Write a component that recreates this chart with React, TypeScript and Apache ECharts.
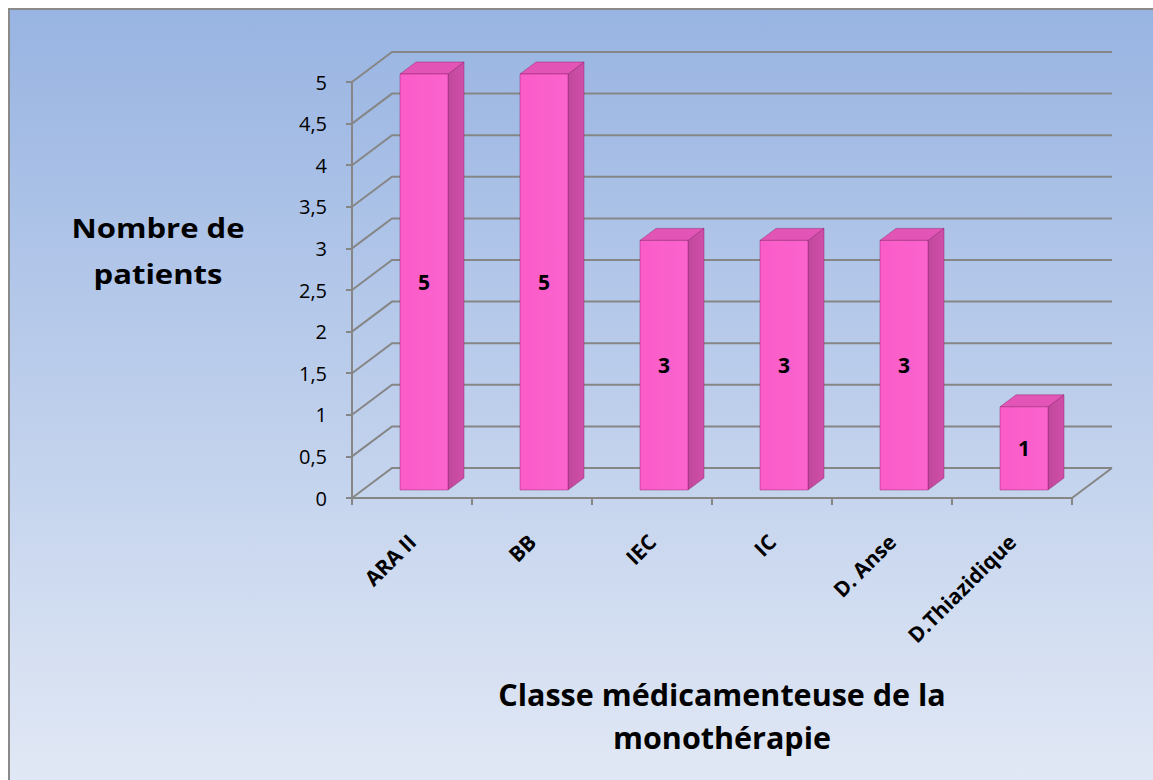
import React, { useEffect, useRef } from "react";
import * as echarts from "echarts";

const categories = ["ARA II", "BB", "IEC", "IC", "D. Anse", "D.Thiazidique"];
const patientCounts = [5, 5, 3, 3, 3, 1];
const yTicks = [0, 0.5, 1, 1.5, 2, 2.5, 3, 3.5, 4, 4.5, 5];
const yTitleLines = ["Nombre de", "patients"];
const xTitleLines = ["Classe médicamenteuse de la", "monothérapie"];

const DEPTH_DX = 40;
const DEPTH_DY = -30;
const GRID_COLOR = "#868686";

export default function App() {
  const ref = useRef<HTMLDivElement>(null);

  useEffect(() => {
    if (!ref.current) return;
    const chart = echarts.init(ref.current, undefined, { renderer: "svg" });
    const font = "'Open Sans', 'Liberation Sans', sans-serif";

    const option: any = {
      animation: false,
      backgroundColor: {
        type: "linear",
        x: 0,
        y: 0,
        x2: 0,
        y2: 1,
        colorStops: [
          { offset: 0, color: "#98b4e2" },
          { offset: 1, color: "#e1e8f5" },
        ],
      },
      grid: { left: 344, top: 74, width: 720, height: 416 },
      xAxis: {
        type: "category",
        data: categories,
        boundaryGap: true,
        axisLine: { lineStyle: { color: GRID_COLOR, width: 2 } },
        axisTick: { show: true, length: 7, lineStyle: { color: GRID_COLOR, width: 2 } },
        axisLabel: {
          rotate: 45,
          margin: 40,
          interval: 0,
          color: "#000",
          fontFamily: font,
          fontWeight: "bold",
          fontSize: 21,
        },
        splitLine: { show: false },
      },
      yAxis: {
        type: "value",
        min: 0,
        max: 5,
        interval: 0.5,
        axisLine: { show: true, lineStyle: { color: GRID_COLOR, width: 2 } },
        axisTick: { show: true, length: 6, lineStyle: { color: GRID_COLOR, width: 2 } },
        axisLabel: {
          margin: 25,
          color: "#000",
          fontFamily: font,
          fontSize: 20,
          formatter: (v: number) => String(v).replace(".", ","),
        },
        splitLine: { show: false },
      },
      series: [
        {
          type: "custom",
          z: 1,
          silent: true,
          data: yTicks.map((v) => [0, v]),
          renderItem: (params: any, api: any) => {
            const v = api.value(1);
            const p = api.coord([0, v]);
            const band = api.size([1, 0])[0];
            const left = p[0] - band / 2;
            const right = left + band * categories.length;
            const y = p[1];
            const children: any[] = [
              {
                type: "polyline",
                shape: {
                  points: [
                    [left, y],
                    [left + DEPTH_DX, y + DEPTH_DY],
                    [right + DEPTH_DX, y + DEPTH_DY],
                  ],
                },
                style: { stroke: GRID_COLOR, lineWidth: 2, fill: null },
              },
            ];
            if (v === 0) {
              children.push({
                type: "line",
                shape: { x1: right, y1: y, x2: right + DEPTH_DX, y2: y + DEPTH_DY },
                style: { stroke: GRID_COLOR, lineWidth: 2 },
              });
            }
            return { type: "group", children };
          },
        },
        {
          type: "custom",
          z: 5,
          data: patientCounts.map((v, i) => [i, v]),
          renderItem: (params: any, api: any) => {
            const i = api.value(0);
            const v = api.value(1);
            const top = api.coord([i, v]);
            const base = api.coord([i, 0]);
            const band = api.size([1, 0])[0];
            const w = band * 0.4;
            const fdx = band * 0.1;
            const fdy = -8;
            const ddx = 16;
            const ddy = -12;
            const x0 = top[0] + fdx - w / 2;
            const x1 = x0 + w;
            const yT = top[1] + fdy;
            const yB = base[1] + fdy;
            const edge = "rgba(140,30,100,0.55)";
            return {
              type: "group",
              children: [
                {
                  type: "polygon",
                  shape: {
                    points: [
                      [x1, yT],
                      [x1 + ddx, yT + ddy],
                      [x1 + ddx, yB + ddy],
                      [x1, yB],
                    ],
                  },
                  style: {
                    fill: {
                      type: "linear", x: 0, y: 0, x2: 1, y2: 0,
                      colorStops: [
                        { offset: 0, color: "#c0489c" },
                        { offset: 1, color: "#d04fa9" },
                      ],
                    },
                    stroke: edge,
                    lineWidth: 0.8,
                  },
                },
                {
                  type: "polygon",
                  shape: {
                    points: [
                      [x0, yT],
                      [x1, yT],
                      [x1 + ddx, yT + ddy],
                      [x0 + ddx, yT + ddy],
                    ],
                  },
                  style: { fill: "#e255b6", stroke: edge, lineWidth: 0.8 },
                },
                {
                  type: "rect",
                  shape: { x: x0, y: yT, width: w, height: yB - yT },
                  style: {
                    fill: {
                      type: "linear", x: 0, y: 0, x2: 1, y2: 0,
                      colorStops: [
                        { offset: 0, color: "#fa5cc8" },
                        { offset: 1, color: "#fb63cd" },
                      ],
                    },
                    stroke: edge,
                    lineWidth: 0.8,
                  },
                },
                {
                  type: "text",
                  style: {
                    text: String(v),
                    x: (x0 + x1) / 2,
                    y: (yT + yB) / 2,
                    align: "center",
                    verticalAlign: "middle",
                    fill: "#000",
                    font: `bold 21px ${font}`,
                  },
                },
              ],
            };
          },
        },
      ],
      graphic: [
        {
          type: "line",
          shape: { x1: 1, y1: 0, x2: 1, y2: 780 },
          style: { stroke: "#8a8a8a", lineWidth: 2 },
        },
        {
          type: "line",
          shape: { x1: 0, y1: 1, x2: 1200, y2: 1 },
          style: { stroke: "#8a8a8a", lineWidth: 2 },
        },
        ...yTitleLines.map((t, k) => ({
          type: "text",
          x: 150,
          y: 220 + k * 46,
          scaleX: 1.15,
          style: {
            text: t,
            textAlign: "center",
            textVerticalAlign: "middle",
            fill: "#000",
            font: `bold 27px ${font}`,
          },
        })),
        ...xTitleLines.map((t, k) => ({
          type: "text",
          x: 714,
          y: 686 + k * 43,
          style: {
            text: t,
            textAlign: "center",
            textVerticalAlign: "middle",
            fill: "#000",
            font: `bold 30.5px ${font}`,
          },
        })),
      ],
    };

    chart.setOption(option);
    return () => chart.dispose();
  }, []);

  return (
    <div
      ref={ref}
      style={{ position: "absolute", left: 8, top: 8, width: 1145, height: 772 }}
    />
  );
}
